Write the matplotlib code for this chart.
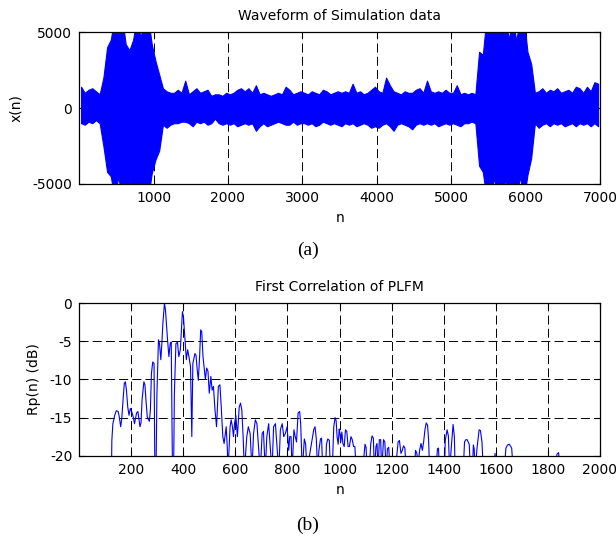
import numpy as np
import matplotlib
matplotlib.use('Agg')
import matplotlib.pyplot as plt

# top panel: signal envelope read per 50-sample bin (max / min of x(n))
bin_width = 50
wave_upper = [
    1400, 1000, 1200, 1300, 1100, 900, 2000, 4000, 4500, 6000,
    4800, 6000, 4200, 3800, 4500, 6000, 4600, 6000, 6000, 4200,
    3100, 2200, 1300, 1100, 1000, 1000, 1200, 1000, 1800, 900,
    1100, 1300, 1000, 1100, 1200, 800, 900, 900, 800, 1000,
    900, 1000, 1200, 1300, 1100, 1300, 1000, 1500, 900, 1000,
    900, 800, 900, 1000, 900, 1400, 1200, 900, 1000, 1100,
    1000, 900, 1100, 1000, 900, 1200, 1100, 900, 1000, 1100,
    1000, 1100, 1000, 1600, 1000, 1100, 900, 1000, 1200, 1400,
    1100, 1000, 2000, 1500, 1100, 1000, 900, 1100, 1000, 1000,
    1200, 1300, 1000, 1800, 1100, 1000, 1100, 1000, 1200, 1000,
    1000, 1500, 900, 1000, 900, 1000, 900, 3700, 3500, 6000,
    6000, 6000, 4800, 6000, 6000, 4500, 6000, 4400, 6000, 6000,
    3700, 2900, 1000, 1100, 1300, 1000, 1200, 1100, 1300, 1000,
    1100, 1200, 1000, 1400, 1300, 1000, 1400, 1100, 1700, 1600,
]
wave_lower = [
    -1000, -1100, -900, -1000, -800, -1000, -2500, -4200, -4500, -6000,
    -4500, -6000, -6000, -4800, -6000, -6000, -6000, -6000, -6000, -4300,
    -3400, -2800, -1100, -1300, -1100, -1000, -1000, -900, -900, -1000,
    -1200, -900, -1000, -900, -1100, -1000, -700, -1000, -1100, -1000,
    -1100, -1000, -1200, -1100, -1000, -1100, -1000, -1500, -1200, -1000,
    -1200, -1100, -1000, -900, -1000, -1100, -1100, -900, -1100, -1000,
    -1000, -1100, -1000, -1200, -1100, -900, -1000, -1100, -1000, -1100,
    -1200, -1000, -1100, -1000, -1200, -1100, -1000, -1100, -1300, -1200,
    -1300, -1100, -1000, -1200, -1500, -1100, -1000, -1100, -1200, -1400,
    -1100, -1000, -1100, -1000, -1100, -1000, -1200, -1100, -1000, -1100,
    -1000, -1100, -1200, -1000, -1000, -900, -1000, -3800, -4200, -6000,
    -6000, -4600, -6000, -6000, -4700, -6000, -6000, -6000, -4500, -6000,
    -4400, -3300, -1000, -1300, -1100, -1000, -1200, -1000, -1100, -1000,
    -1200, -1100, -1000, -1200, -1000, -1100, -1000, -1200, -1000, -1200,
]

# bottom panel: first correlation (dB), traced points
corr_n = [
    122, 126, 130, 137, 143, 150, 154, 160, 164, 169, 174, 178, 182, 187, 192, 197,
    202, 208, 213, 221, 226, 234, 238, 242, 249, 253, 257, 262, 270, 274, 278, 283,
    288, 293, 299, 305, 309, 314, 318, 322, 328, 332, 339, 345, 350, 354, 361, 366,
    372, 378, 383, 389, 397, 401, 407, 412, 417, 422, 428, 433, 437, 445, 449, 454,
    458, 463, 467, 471, 476, 480, 485, 490, 495, 500, 506, 511, 516, 522, 528, 535,
    541, 546, 552, 557, 565, 569, 572, 580, 584, 589, 593, 597, 602, 608, 615, 620,
    625, 630, 635, 644, 650, 657, 664, 670, 677, 683, 689, 696, 703, 708, 715, 721,
    728, 734, 741, 747, 754, 760, 767, 773, 780, 786, 792, 799, 805, 809, 814, 818,
    825, 830, 835, 841, 847, 851, 857, 865, 870, 875, 880, 901, 906, 911, 916, 921,
    927, 931, 936, 946, 950, 955, 961, 965, 972, 978, 983, 987, 991, 995, 999, 1002,
    1005, 1009, 1013, 1018, 1023, 1028, 1033, 1038, 1044, 1049, 1054, 1059, 1064, 1090, 1094, 1098,
    1102, 1106, 1114, 1120, 1125, 1130, 1134, 1140, 1144, 1148, 1153, 1158, 1162, 1169, 1174, 1179,
    1184, 1189, 1194, 1216, 1220, 1225, 1230, 1236, 1241, 1246, 1251, 1256, 1287, 1292, 1297, 1302,
    1308, 1313, 1318, 1323, 1328, 1333, 1338, 1342, 1346, 1370, 1376, 1380, 1384, 1403, 1406, 1413,
    1418, 1423, 1429, 1436, 1441, 1444, 1475, 1480, 1485, 1490, 1498, 1503, 1510, 1514, 1517, 1521,
    1528, 1536, 1541, 1547, 1552, 1594, 1597, 1603, 1632, 1639, 1645, 1652, 1661, 1667, 1826, 1835,
    1841, 1848, 2000,
]
corr_db = [
    -30, -18, -15.8, -14.7, -14.1, -14.2, -14.8, -16.2, -15.2, -12.7, -10.5, -10.3, -11.4, -13.6, -14.7, -13.8,
    -14.2, -14.9, -15.8, -14.4, -14.2, -16.2, -15.7, -12.7, -10.3, -10.7, -12.7, -14.9, -15.5, -14.0, -9.2, -7.7,
    -7.9, -30, -12, -4.8, -5.3, -7.4, -5.3, -2.6, 0, -0.9, -4.4, -7.0, -5.3, -5.1, -30, -12,
    -5.3, -5.1, -7.0, -6.1, -1.1, -1.8, -4.8, -7.4, -6.1, -7.0, -8.3, -17.5, -7.9, -6.6, -6.8, -8.8,
    -10.1, -7.0, -3.5, -3.7, -7.0, -8.3, -10.0, -8.5, -8.9, -11.8, -9.6, -11.4, -10.9, -14.0, -16.2, -10.9,
    -10.7, -13.6, -17.5, -18.4, -16.2, -18.8, -22, -16.2, -15.3, -16.2, -17.5, -15.8, -14.7, -17.5, -13.6, -13.1,
    -14.0, -17.5, -22, -17.5, -16.2, -17.1, -22, -17.1, -15.3, -15.8, -18.8, -22, -17.1, -16.8, -22, -17.5,
    -15.8, -18.8, -22, -16.2, -15.8, -18.8, -22, -16.6, -15.8, -17.5, -17.1, -16.2, -19.3, -17.5, -17.5, -22,
    -16.6, -17.5, -18.2, -14.4, -14.2, -15.8, -22, -17.8, -18.5, -22, -21, -16.6, -16.2, -17.8, -22, -19.3,
    -17.8, -17.7, -22, -22, -18.5, -17.8, -18.0, -22, -22, -16.2, -15.0, -15.4, -17.6, -18.5, -16.5, -17.1,
    -18.2, -16.9, -18.4, -18.8, -16.6, -16.8, -18.8, -18.8, -17.5, -17.9, -18.8, -18.8, -22, -22, -20, -18.5,
    -18.9, -22, -22, -18.4, -17.4, -17.7, -22, -18.8, -18.4, -22, -17.9, -17.9, -22, -17.9, -18.2, -22,
    -19.1, -18.9, -22, -22, -20, -18.2, -18.0, -19.7, -19.3, -18.7, -19.0, -22, -22, -19.3, -19.7, -21,
    -19.2, -18.4, -19.3, -18.2, -16.6, -15.7, -16.0, -17.9, -22, -22, -19.1, -19.0, -22, -22, -18.0, -16.6,
    -17.4, -22, -19, -15.9, -17.5, -22, -22, -18.2, -17.9, -17.9, -18.5, -22, -22, -18.6, -19.1, -22,
    -19, -16.6, -16.7, -18.2, -22, -22, -19.7, -22, -22, -19.0, -18.6, -18.5, -19.0, -22, -22, -19.8,
    -19.6, -22, -22,
]

BLUE = (0, 0, 1)
FS = 10


def style_axes(ax):
    ax.tick_params(direction='in', top=True, right=True, length=4, width=0.8,
                   labelsize=FS, colors='black', pad=5)
    for sp in ax.spines.values():
        sp.set_linewidth(0.9)
    ax.set_axisbelow(True)
    ax.grid(True, color='black', linestyle=(0, (6.5, 3)), linewidth=0.7)


def main():
    plt.rcParams['font.family'] = ['DejaVu Sans']
    plt.rcParams['axes.unicode_minus'] = False
    plt.rcParams['lines.scale_dashes'] = False
    fig = plt.figure(figsize=(6.16, 5.38), dpi=100)

    # (a) waveform envelope
    ax1 = fig.add_axes([0.1287, 0.658, 0.8453, 0.2825])
    xs = np.arange(len(wave_upper)) * bin_width + bin_width / 2
    ax1.fill_between(xs, wave_lower, wave_upper, color=BLUE, linewidth=0.8)
    ax1.set_xlim(1, 7000)
    ax1.set_ylim(-5000, 5000)
    ax1.set_xticks(range(1000, 7001, 1000))
    ax1.set_yticks([-5000, 0, 5000])
    style_axes(ax1)
    ax1.text(0.5, 1.105, 'Waveform of Simulation data', transform=ax1.transAxes,
             ha='center', va='center', fontsize=FS)
    ax1.set_xlabel('n', fontsize=FS)
    ax1.xaxis.set_label_coords(0.5, -0.178)
    ax1.set_ylabel('x(n)', fontsize=FS)
    ax1.yaxis.set_label_coords(-0.108, 0.5)
    fig.text(0.5, 1 - 250 / 538, '(a)', ha='center', va='center',
             fontsize=14, family='Liberation Serif')

    # (b) correlation
    ax2 = fig.add_axes([0.1287, 0.153, 0.8453, 0.2833])
    ax2.plot(corr_n, corr_db, color=BLUE, linewidth=0.8)
    ax2.set_xlim(1, 2000)
    ax2.set_ylim(-20, 0)
    ax2.set_xticks(range(200, 2001, 200))
    ax2.set_yticks([-20, -15, -10, -5, 0])
    style_axes(ax2)
    ax2.text(0.5, 1.104, 'First Correlation of PLFM', transform=ax2.transAxes,
             ha='center', va='center', fontsize=FS)
    ax2.set_xlabel('n', fontsize=FS)
    ax2.xaxis.set_label_coords(0.5, -0.179)
    ax2.set_ylabel('Rp(n) (dB)', fontsize=FS)
    ax2.yaxis.set_label_coords(-0.073, 0.5)
    fig.text(0.5, 1 - 525 / 538, '(b)', ha='center', va='center',
             fontsize=14, family='Liberation Serif')

    fig.savefig('out.png', dpi=100)


if __name__ == '__main__':
    main()
